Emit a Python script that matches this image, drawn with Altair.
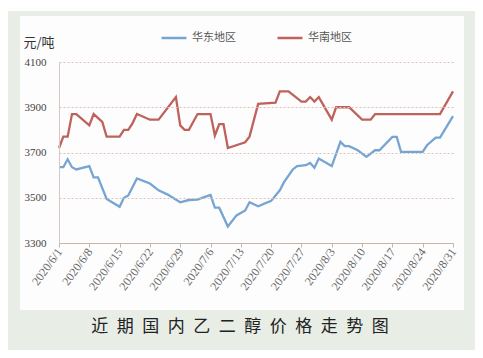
import altair as alt
import pandas as pd

series_names = ["华东地区", "华南地区"]
series_colors = ["#76a5d3", "#c0625c"]

east_dates = ["2020-06-01", "2020-06-02", "2020-06-03", "2020-06-04", "2020-06-05", "2020-06-08",
              "2020-06-09", "2020-06-10", "2020-06-12", "2020-06-15", "2020-06-16", "2020-06-17",
              "2020-06-19", "2020-06-22", "2020-06-24", "2020-06-26", "2020-06-29", "2020-07-01",
              "2020-07-03", "2020-07-05", "2020-07-06", "2020-07-07", "2020-07-08", "2020-07-10",
              "2020-07-12", "2020-07-14", "2020-07-15", "2020-07-17", "2020-07-20", "2020-07-22",
              "2020-07-23", "2020-07-25", "2020-07-26", "2020-07-28", "2020-07-29", "2020-07-30",
              "2020-07-31", "2020-08-03", "2020-08-05", "2020-08-06", "2020-08-07", "2020-08-09",
              "2020-08-11", "2020-08-13", "2020-08-14", "2020-08-17", "2020-08-18", "2020-08-19",
              "2020-08-24", "2020-08-25", "2020-08-27", "2020-08-28", "2020-08-31"]
east_values = [3635, 3635, 3670, 3635, 3625, 3640,
               3590, 3590, 3495, 3460, 3500, 3510,
               3585, 3563, 3533, 3515, 3480, 3490,
               3492, 3506, 3512, 3456, 3456, 3373,
               3422, 3444, 3480, 3462, 3486, 3533,
               3570, 3625, 3640, 3644, 3654, 3633,
               3673, 3640, 3747, 3728, 3728, 3710,
               3681, 3710, 3710, 3769, 3769, 3703,
               3703, 3732, 3766, 3766, 3861]

south_dates = ["2020-06-01", "2020-06-02", "2020-06-03", "2020-06-04", "2020-06-05", "2020-06-08",
               "2020-06-09", "2020-06-11", "2020-06-12", "2020-06-15", "2020-06-16", "2020-06-17",
               "2020-06-18", "2020-06-19", "2020-06-22", "2020-06-24", "2020-06-28", "2020-06-29",
               "2020-06-30", "2020-07-01", "2020-07-03", "2020-07-06", "2020-07-07", "2020-07-08",
               "2020-07-09", "2020-07-10", "2020-07-14", "2020-07-15", "2020-07-17", "2020-07-21",
               "2020-07-22", "2020-07-24", "2020-07-27", "2020-07-28", "2020-07-29", "2020-07-30",
               "2020-07-31", "2020-08-03", "2020-08-04", "2020-08-07", "2020-08-10", "2020-08-12",
               "2020-08-13", "2020-08-28", "2020-08-31"]
south_values = [3720, 3770, 3770, 3870, 3870, 3820,
                3870, 3835, 3770, 3770, 3800, 3800,
                3830, 3870, 3845, 3845, 3945, 3820,
                3800, 3800, 3870, 3870, 3775, 3825,
                3825, 3720, 3745, 3770, 3915, 3920,
                3970, 3970, 3925, 3925, 3945, 3925,
                3945, 3845, 3900, 3900, 3845, 3845,
                3870, 3870, 3970]

y_ticks = [3300, 3500, 3700, 3900, 4100]
x_tick_days = [(6, 1), (6, 8), (6, 15), (6, 22), (6, 29), (7, 6), (7, 13), (7, 20),
               (7, 27), (8, 3), (8, 10), (8, 17), (8, 24), (8, 31)]

y_title = "元/吨"
chart_title = "近期国内乙二醇价格走势图"

df = pd.concat([
    pd.DataFrame({"date": east_dates, "price": east_values, "series": series_names[0]}),
    pd.DataFrame({"date": south_dates, "price": south_values, "series": series_names[1]}),
])

one = pd.DataFrame({"a": [0]})

frame = alt.Chart(one).mark_rect(color="#e8ede6").encode(
    x=alt.value(-51), x2=alt.value(416), y=alt.value(-51), y2=alt.value(291)
)
panel = alt.Chart(one).mark_rect(color="#fdfdfd").encode(
    x=alt.value(-39), x2=alt.value(405), y=alt.value(-46), y2=alt.value(248)
)

tick_values = [alt.DateTime(year=2020, month=m, date=d, utc=True) for m, d in x_tick_days]

lines = alt.Chart(df).mark_line(strokeWidth=2.3).encode(
    x=alt.X(
        "date:T",
        scale=alt.Scale(
            type="utc",
            domain=[alt.DateTime(year=2020, month=6, date=1, utc=True),
                    alt.DateTime(year=2020, month=8, date=31, utc=True)],
        ),
        axis=alt.Axis(
            values=tick_values, format="%Y/%-m/%-d", labelAngle=-54, labelAlign="right",
            labelBaseline="middle", labelFont="Liberation Serif", labelFontSize=12,
            labelColor="#666", tickSize=4, tickColor="#c8b4aa", domainColor="#c8b4aa",
            grid=False, title=None, labelPadding=2, labelOverlap=False, zindex=1,
        ),
    ),
    y=alt.Y(
        "price:Q",
        scale=alt.Scale(domain=[3300, 4100], nice=False, zero=False),
        axis=alt.Axis(
            values=y_ticks, format="d", tickSize=0, labelPadding=13, labelFont="Liberation Serif",
            labelFontSize=11, labelColor="#444", domainColor="#d6c8c0",
            grid=True, gridColor="#dcbfb2", gridDash=[2, 2], gridWidth=1,
            title=y_title, titleAngle=0, titleX=-36, titleY=-20, titleAlign="left",
            titleBaseline="middle", titleFont="Noto Sans CJK SC", titleFontSize=13,
            titleFontWeight="normal", titleColor="#333", zindex=1,
        ),
    ),
    color=alt.Color(
        "series:N",
        scale=alt.Scale(domain=series_names, range=series_colors),
        legend=alt.Legend(
            orient="none", legendX=101, legendY=-38, direction="horizontal", title=None,
            symbolType="stroke", symbolSize=625, symbolStrokeWidth=2.5,
            labelFont="Noto Sans CJK SC", labelFontSize=11, labelColor="#555",
            labelOffset=4, columnPadding=36,
        ),
    ),
)

title_text = alt.Chart(one).mark_text(
    font="Noto Sans CJK SC", fontSize=17, color="#222", align="center", baseline="middle"
).encode(
    x=alt.value(181), y=alt.value(265), text=alt.value("\u2002".join(chart_title))
)

chart = alt.layer(frame, panel, lines, title_text).properties(
    width=394, height=181,
    autosize=alt.AutoSizeParams(type="none"),
    padding={"left": 51, "top": 54, "right": 22, "bottom": 107},
    background="white",
).configure_view(stroke=None)

chart.save("out.html", embed_options={"renderer": "svg", "actions": False})
